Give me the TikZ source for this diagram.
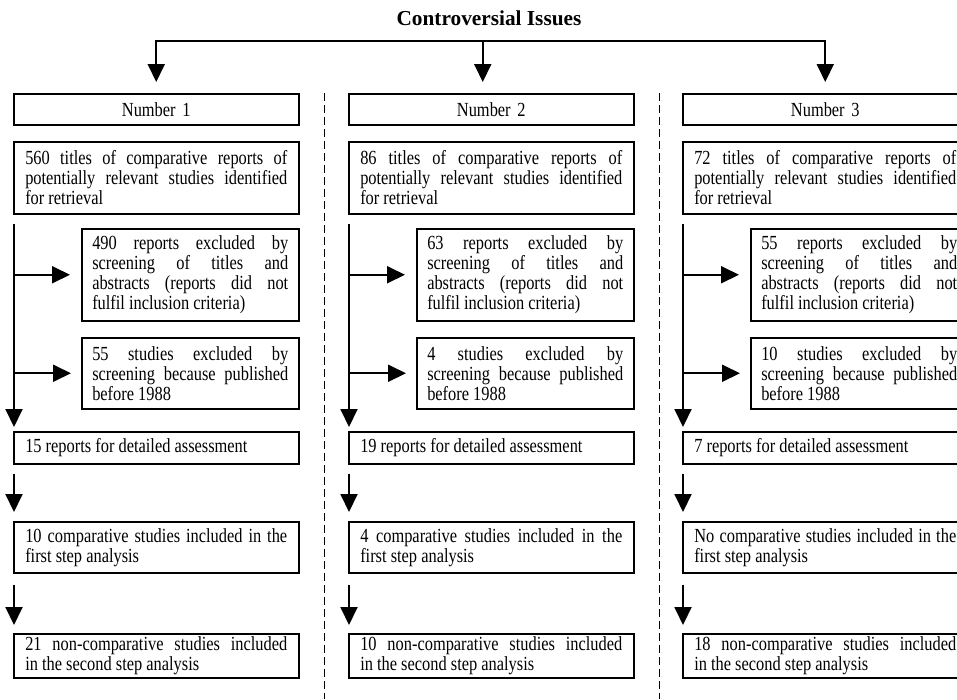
\documentclass[tikz,border=0pt]{standalone}
\usepackage{fontspec}
\setmainfont{Liberation Serif}[FakeStretch=0.82]
\newfontfamily\headfont{Liberation Serif}
\usetikzlibrary{arrows.meta}
\tolerance=10000
\hyphenpenalty=10000

\begin{document}
\begin{tikzpicture}[x = 1pt, y = 1pt,
  >={Triangle[length = 18pt, width = 17pt]},
  box/.style = {draw, line width = 1.5pt, rectangle, anchor = north west, text width = 262pt, inner xsep = 11.5pt, inner ysep = 2pt, align = justify, font = \fontsize{20}{20}\selectfont},
  numbox/.style = {box, align = center, minimum height = 31pt},
  xbox/.style = {box, text width = 196pt, inner xsep = 10.5pt},
  arr/.style = {line width = 1.9pt, ->},
  divider/.style = {line width = 1.5pt, dash pattern = on 8pt off 4pt}]
\useasboundingbox (0,0) rectangle (957,-699);
\clip (0,0) rectangle (957,-699);
\node[font = \headfont\bfseries\fontsize{21.3}{24}\selectfont] (title) at (489,-18) {Controversial Issues};

\node[numbox] (num1) at (13,-93) {Number 1};
\node[box, minimum height = 72pt] (ret1) at (13,-141) {560 titles of comparative reports of\linebreak potentially relevant studies identified\linebreak for retrieval};
\node[xbox, minimum height = 92pt] (scr1) at (81,-228) {490 reports excluded by\linebreak screening of titles and\linebreak abstracts (reports did not\linebreak fulfil inclusion criteria)};
\node[xbox, minimum height = 71pt] (pub1) at (81,-337) {55 studies excluded by\linebreak screening because published\linebreak before 1988};
\node[box, minimum height = 32pt] (det1) at (13,-431) {15 reports for detailed assessment};
\node[box, minimum height = 51pt] (fst1) at (13,-521) {10 comparative studies included in the\linebreak first step analysis};
\node[box, minimum height = 44pt] (snd1) at (13,-633) {21 non-comparative studies included\linebreak in the second step analysis};

\node[numbox] (num2) at (348,-93) {Number 2};
\node[box, minimum height = 72pt] (ret2) at (348,-141) {86 titles of comparative reports of\linebreak potentially relevant studies identified\linebreak for retrieval};
\node[xbox, minimum height = 92pt] (scr2) at (416,-228) {63 reports excluded by\linebreak screening of titles and\linebreak abstracts (reports did not\linebreak fulfil inclusion criteria)};
\node[xbox, minimum height = 71pt] (pub2) at (416,-337) {4 studies excluded by\linebreak screening because published\linebreak before 1988};
\node[box, minimum height = 32pt] (det2) at (348,-431) {19 reports for detailed assessment};
\node[box, minimum height = 51pt] (fst2) at (348,-521) {4 comparative studies included in the\linebreak first step analysis};
\node[box, minimum height = 44pt] (snd2) at (348,-633) {10 non-comparative studies included\linebreak in the second step analysis};

\node[numbox] (num3) at (682,-93) {Number 3};
\node[box, minimum height = 72pt] (ret3) at (682,-141) {72 titles of comparative reports of\linebreak potentially relevant studies identified\linebreak for retrieval};
\node[xbox, minimum height = 92pt] (scr3) at (750,-228) {55 reports excluded by\linebreak screening of titles and\linebreak abstracts (reports did not\linebreak fulfil inclusion criteria)};
\node[xbox, minimum height = 71pt] (pub3) at (750,-337) {10 studies excluded by\linebreak screening because published\linebreak before 1988};
\node[box, minimum height = 32pt] (det3) at (682,-431) {7 reports for detailed assessment};
\node[box, minimum height = 51pt] (fst3) at (682,-521) {No comparative studies included in the\linebreak first step analysis};
\node[box, minimum height = 44pt] (snd3) at (682,-633) {18 non-comparative studies included\linebreak in the second step analysis};

\coordinate (tip1) at ([yshift = 11pt]num1.north);
\coordinate (tip2) at ([xshift = -8.5pt, yshift = 11pt]num2.north);
\coordinate (tip3) at ([yshift = 11pt]num3.north);
\coordinate (bar) at ([yshift = 52pt]num3.north);
\draw[line width = 1.9pt, <->] (tip1) |- (bar) -- (tip3);
\draw[arr] (tip2 |- bar) -- (tip2);

\coordinate (flow1) at ([xshift = 1pt, yshift = -9pt]ret1.south west);
\draw[arr] (flow1) -- ([xshift = 1pt, yshift = 4pt]det1.north west);
\draw[arr] (flow1 |- scr1.west) -- ([xshift = -11pt]scr1.west);
\draw[arr] (flow1 |- pub1.west) -- ([xshift = -10pt]pub1.west);
\draw[arr] ([xshift = 1pt, yshift = -9pt]det1.south west) -- ([xshift = 1pt, yshift = 9pt]fst1.north west);
\draw[arr] ([xshift = 1pt, yshift = -11pt]fst1.south west) -- ([xshift = 1pt, yshift = 8pt]snd1.north west);

\coordinate (flow2) at ([xshift = 1pt, yshift = -9pt]ret2.south west);
\draw[arr] (flow2) -- ([xshift = 1pt, yshift = 4pt]det2.north west);
\draw[arr] (flow2 |- scr2.west) -- ([xshift = -11pt]scr2.west);
\draw[arr] (flow2 |- pub2.west) -- ([xshift = -10pt]pub2.west);
\draw[arr] ([xshift = 1pt, yshift = -9pt]det2.south west) -- ([xshift = 1pt, yshift = 9pt]fst2.north west);
\draw[arr] ([xshift = 1pt, yshift = -11pt]fst2.south west) -- ([xshift = 1pt, yshift = 8pt]snd2.north west);

\coordinate (flow3) at ([xshift = 1pt, yshift = -9pt]ret3.south west);
\draw[arr] (flow3) -- ([xshift = 1pt, yshift = 4pt]det3.north west);
\draw[arr] (flow3 |- scr3.west) -- ([xshift = -11pt]scr3.west);
\draw[arr] (flow3 |- pub3.west) -- ([xshift = -10pt]pub3.west);
\draw[arr] ([xshift = 1pt, yshift = -9pt]det3.south west) -- ([xshift = 1pt, yshift = 9pt]fst3.north west);
\draw[arr] ([xshift = 1pt, yshift = -11pt]fst3.south west) -- ([xshift = 1pt, yshift = 8pt]snd3.north west);

\draw[divider] ([xshift = 25pt]num1.north east) -- ([xshift = 25pt, yshift = -20pt]snd1.south east);
\draw[divider] ([xshift = 25pt]num2.north east) -- ([xshift = 25pt, yshift = -20pt]snd2.south east);
\end{tikzpicture}
\end{document}
